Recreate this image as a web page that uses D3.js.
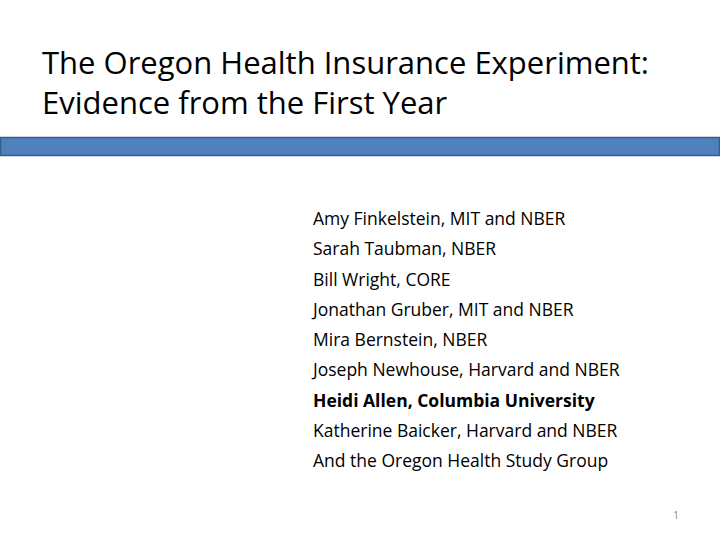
<!DOCTYPE html>
<html>
<head>
<meta charset="utf-8">
<script src="https://cdn.jsdelivr.net/npm/d3@7"></script>
<style>body{margin:0;background:#fff}</style>
</head>
<body>
<div id="canvas"></div>
<script>
var width = 720, height = 540;
var titleLines = ['The Oregon Health Insurance Experiment:', 'Evidence from the First Year'];
var authors = ['Amy Finkelstein, MIT and NBER', 'Sarah Taubman, NBER', 'Bill Wright, CORE',
    'Jonathan Gruber, MIT and NBER', 'Mira Bernstein, NBER', 'Joseph Newhouse, Harvard and NBER',
    'Heidi Allen, Columbia University', 'Katherine Baicker, Harvard and NBER',
    'And the Oregon Health Study Group'];
var boldAuthors = ['Heidi Allen, Columbia University'];
var pageNumber = '1';

var svg = d3.select('#canvas').append('svg')
    .attr('width', width).attr('height', height)
    .style('font-family', '"Open Sans", sans-serif');

var titleY = d3.scaleLinear().domain([0, 1]).range([74, 114]);
svg.selectAll('text.title').data(titleLines).enter().append('text')
    .attr('class', 'title')
    .attr('x', 42).attr('y', function (d, i) { return titleY(i); })
    .style('font-size', '31px').style('fill', '#000')
    .text(function (d) { return d; });

svg.append('rect')
    .attr('x', 0.5).attr('y', 137.5).attr('width', 719).attr('height', 18)
    .style('fill', '#4F81BD').style('stroke', '#385D8A').style('stroke-width', 1.5);

var authorY = d3.scaleLinear().domain([0, authors.length - 1]).range([225, 467]);
svg.selectAll('text.author').data(authors).enter().append('text')
    .attr('class', 'author')
    .attr('x', 313).attr('y', function (d, i) { return authorY(i); })
    .style('font-size', '17.5px')
    .style('font-weight', function (d) { return boldAuthors.indexOf(d) >= 0 ? 'bold' : 'normal'; })
    .text(function (d) { return d; });

svg.append('text')
    .attr('x', 676).attr('y', 519).attr('text-anchor', 'middle')
    .style('font-size', '10px').style('fill', '#888')
    .text(pageNumber);
</script>
</body>
</html>
